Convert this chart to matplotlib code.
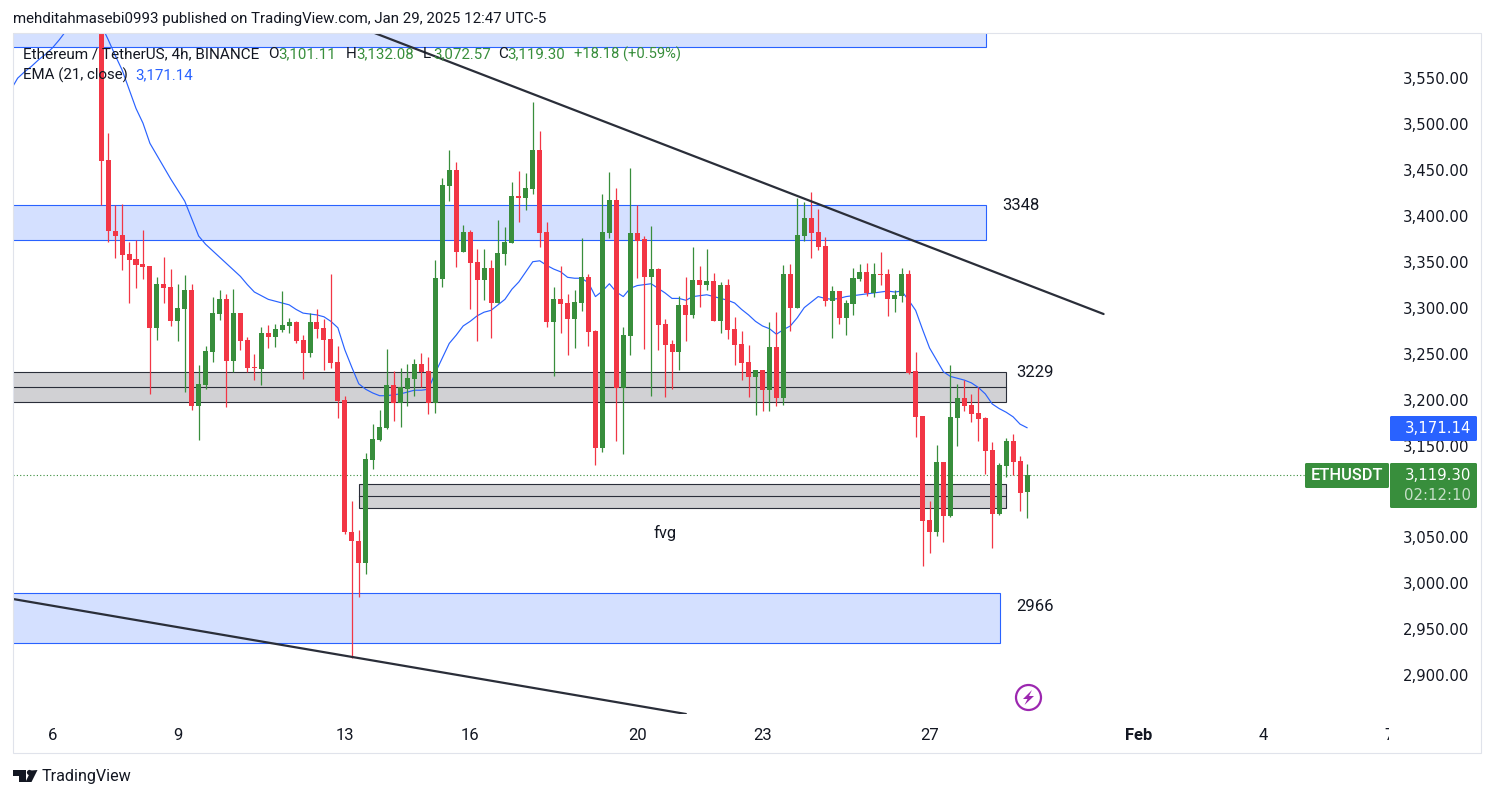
import numpy as np
import matplotlib
matplotlib.use("Agg")
import matplotlib.pyplot as plt
from matplotlib.patches import Rectangle, Polygon, Circle, FancyBboxPatch
from matplotlib.transforms import Bbox, ScaledTranslation

plt.rcParams["font.family"] = ["Roboto", "DejaVu Sans"]

# 4h candles, oldest first
opens = [3680, 3463, 3385, 3381, 3360, 3355, 3350, 3347, 3280, 3328, 3324, 3287, 3300, 3321, 3195, 3218, 3254, 3295, 3311, 3244,
         3296, 3267, 3237, 3235, 3274, 3270, 3278, 3282, 3286, 3267, 3253, 3286, 3280, 3268, 3243, 3201, 3057, 3048, 3024, 3136,
         3158, 3171, 3218, 3198, 3213, 3224, 3241, 3233, 3198, 3333, 3434, 3452, 3363, 3384, 3352, 3332, 3345, 3307, 3360, 3372,
         3424, 3421, 3431, 3474, 3384, 3286, 3311, 3307, 3290, 3307, 3335, 3276, 3149, 3383, 3419, 3214, 3271, 3383, 3377, 3335,
         3344, 3284, 3262, 3254, 3305, 3294, 3332, 3327, 3331, 3287, 3327, 3279, 3262, 3243, 3226, 3234, 3212, 3259, 3204, 3339,
         3302, 3380, 3400, 3384, 3369, 3309, 3320, 3291, 3306, 3333, 3341, 3318, 3339, 3339, 3311, 3315, 3339, 3233, 3184, 3071,
         3057, 3134, 3075, 3182, 3204, 3196, 3187, 3182, 3147, 3077, 3129, 3157, 3135, 3101.11]
highs = [3690, 3492, 3414, 3415, 3373, 3376, 3387, 3347, 3335, 3357, 3344, 3328, 3338, 3328, 3239, 3260, 3314, 3321, 3317, 3322,
         3296, 3270, 3251, 3281, 3283, 3284, 3320, 3291, 3287, 3272, 3296, 3300, 3290, 3339, 3260, 3206, 3091, 3060, 3144, 3175,
         3190, 3257, 3233, 3236, 3241, 3246, 3253, 3248, 3354, 3443, 3474, 3461, 3392, 3387, 3366, 3366, 3354, 3397, 3390, 3439,
         3451, 3449, 3526, 3494, 3395, 3324, 3347, 3317, 3321, 3378, 3339, 3278, 3426, 3450, 3432, 3281, 3454, 3414, 3380, 3391,
         3345, 3290, 3267, 3315, 3335, 3368, 3347, 3366, 3340, 3330, 3333, 3292, 3276, 3261, 3234, 3234, 3286, 3297, 3348, 3349,
         3421, 3417, 3428, 3409, 3379, 3325, 3320, 3310, 3345, 3349, 3351, 3351, 3363, 3344, 3321, 3345, 3343, 3254, 3184, 3091,
         3152, 3134, 3239, 3219, 3223, 3208, 3215, 3183, 3156, 3133, 3160, 3164, 3140, 3132.08]
lows = [3414, 3373, 3356, 3343, 3307, 3323, 3333, 3208, 3267, 3307, 3282, 3266, 3210, 3190, 3158, 3213, 3243, 3289, 3194, 3232,
        3256, 3232, 3223, 3218, 3258, 3259, 3275, 3274, 3263, 3224, 3248, 3269, 3234, 3236, 3182, 3055, 2920, 2987, 3012, 3126,
        3157, 3170, 3178, 3172, 3195, 3206, 3215, 3186, 3187, 3324, 3418, 3346, 3363, 3300, 3266, 3310, 3269, 3307, 3348, 3372,
        3395, 3408, 3426, 3368, 3281, 3227, 3274, 3250, 3258, 3298, 3260, 3130, 3145, 3378, 3157, 3142, 3250, 3334, 3257, 3206,
        3256, 3205, 3213, 3234, 3266, 3291, 3303, 3321, 3287, 3274, 3268, 3239, 3223, 3205, 3185, 3189, 3189, 3195, 3196, 3276,
        3302, 3375, 3356, 3365, 3304, 3269, 3284, 3272, 3294, 3331, 3315, 3314, 3327, 3293, 3297, 3308, 3230, 3161, 3020, 3035,
        3053, 3047, 3074, 3151, 3189, 3177, 3157, 3121, 3040, 3076, 3117, 3120, 3080, 3072.57]
closes = [3462, 3385, 3380, 3359, 3354, 3348, 3346, 3280, 3328, 3323, 3287, 3302, 3321, 3195, 3219, 3255, 3296, 3311, 3244, 3296,
          3266, 3236, 3236, 3274, 3270, 3279, 3283, 3286, 3266, 3253, 3286, 3279, 3267, 3242, 3200, 3057, 3048, 3024, 3137, 3159,
          3172, 3218, 3198, 3215, 3225, 3241, 3232, 3198, 3334, 3436, 3452, 3363, 3384, 3351, 3332, 3345, 3307, 3361, 3373, 3424,
          3421, 3432, 3474, 3383, 3286, 3311, 3306, 3290, 3308, 3335, 3275, 3149, 3384, 3419, 3214, 3272, 3383, 3375, 3335, 3344,
          3283, 3261, 3254, 3305, 3294, 3332, 3327, 3331, 3287, 3327, 3278, 3261, 3242, 3226, 3234, 3212, 3259, 3204, 3339, 3302,
          3381, 3400, 3383, 3368, 3309, 3320, 3291, 3307, 3334, 3341, 3318, 3339, 3337, 3311, 3316, 3339, 3231, 3183, 3069, 3057,
          3134, 3075, 3183, 3204, 3195, 3186, 3181, 3146, 3077, 3130, 3157, 3134, 3100, 3119.30]

# EMA(21), starts 13 bars before the first candle
ema_offset = -13
ema = [3539, 3552, 3559, 3565, 3572, 3578, 3585, 3594, 3604, 3626, 3632, 3634, 3626,
       3610, 3594, 3577, 3561, 3540, 3519, 3503, 3481, 3468, 3455, 3442, 3430, 3418, 3399, 3380, 3371, 3364, 3357, 3350, 3343,
       3336, 3327, 3319, 3315, 3311, 3309, 3307, 3305, 3300, 3296, 3295, 3294, 3292, 3287, 3280, 3256, 3237, 3219, 3213, 3209,
       3206, 3206, 3207, 3208, 3210, 3212, 3212, 3213, 3231, 3247, 3263, 3272, 3282, 3287, 3293, 3297, 3299, 3305, 3311, 3322,
       3330, 3341, 3352, 3353, 3348, 3344, 3341, 3335, 3334, 3334, 3329, 3314, 3320, 3328, 3319, 3314, 3323, 3326, 3327, 3328,
       3323, 3318, 3312, 3312, 3310, 3314, 3315, 3316, 3314, 3312, 3310, 3307, 3300, 3294, 3287, 3282, 3279, 3273, 3278, 3282,
       3291, 3302, 3308, 3314, 3312, 3311, 3312, 3314, 3315, 3316, 3317, 3318, 3319, 3320, 3319, 3320, 3310, 3299, 3278, 3258,
       3245, 3232, 3227, 3225, 3223, 3220, 3215, 3208, 3197, 3192, 3188, 3183, 3175, 3171.14]

# drawings on the chart: bar index ranges and price levels
blue_zones = [(-20, 127.05, 3586, 3660), (-20, 127.05, 3376, 3414), (-20, 129.05, 2937, 2991)]
gray_zones = [(-20, 130.05, 3198.8, 3215, 3231.5), (37.0, 130.05, 3083.3, 3096.4, 3109.4)]
trend_x = [[39.27, 144.0], [-12.67, 84.0]]
trend_y = [[3601.2, 3295], [2984.5, 2859.2]]
level_names = ["3348", "3229", "2966", "fvg"]
level_x = [129.4, 131.4, 131.4, 79.4]
level_y = [3413, 3231, 2976, 3056]

# 3,100.00 is hidden by the last price badge
price_ticks = [2900, 2950, 3000, 3050, 3150, 3200, 3250, 3300, 3350, 3400, 3450, 3500, 3550]
day_ticks = [-7, 11, 35, 53, 77, 95, 119, 149, 167, 185]
day_labels = ["6", "9", "13", "16", "20", "23", "27", "Feb", "4", "7"]

RED = "#f23645"
GREEN = "#388e3c"
BLUE = "#2962ff"
DARK = "#2a2e39"
TEXT = "#131722"
SCALE_FONT = "DejaVu Sans"
W, H = 1494, 798

fig = plt.figure(figsize=(W / 100, H / 100), dpi=100, facecolor="white")
ax = fig.add_axes([13 / W, 1 - 714 / H, (1389 - 13) / W, (714 - 33) / H])
ax.set_xlim(-12.67, 184.75)
ax.set_ylim(2859.2, 3601.2)
for s in ax.spines.values():
    s.set_visible(False)

for x0, x1, lo, hi in blue_zones:
    ax.add_patch(Rectangle((x0, lo), x1 - x0, hi - lo, fc="#d4e0ff", ec=BLUE, lw=0.8, zorder=1))
for x0, x1, lo, mid, hi in gray_zones:
    ax.add_patch(Rectangle((x0, lo), x1 - x0, hi - lo, fc="#d1d1d4", ec=DARK, lw=0.8, zorder=1))
    ax.plot([x0, x1], [mid, mid], color=DARK, lw=0.8, zorder=1)

idx = np.arange(len(closes))
opens = np.array(opens, dtype=float)
closes = np.array(closes, dtype=float)
colors = [GREEN if c >= o else RED for o, c in zip(opens, closes)]
ema_x = np.arange(len(ema)) + ema_offset
ax.plot(ema_x, ema, color=BLUE, lw=0.85, zorder=2)
ax.axhline(closes[-1], color=GREEN, lw=0.8, ls=(0, (1, 2)), zorder=2)
ax.vlines(idx, lows, highs, colors=colors, lw=0.9, zorder=3)
ax.bar(idx, np.abs(closes - opens), bottom=np.minimum(opens, closes), width=0.72, color=colors, lw=0, zorder=3)

for tx, ty in zip(trend_x, trend_y):
    ax.plot(tx, ty, color=DARK, lw=1.6, solid_capstyle="round", zorder=4)

for name, lx, ly in zip(level_names, level_x, level_y):
    ax.text(lx, ly, name, fontsize=12, color=TEXT, ha="left", va="center", zorder=5)

ax.yaxis.tick_right()
ax.set_yticks(price_ticks)
ax.set_yticklabels([f"{p:,.2f}" for p in price_ticks], fontsize=10.7, color=TEXT, family=SCALE_FONT)
ax.set_xticks(day_ticks)
ax.set_xticklabels(day_labels, fontsize=12, color=TEXT)
ax.tick_params(axis="y", length=0, pad=10)
ax.tick_params(axis="x", length=0, pad=10)
ax.get_xticklabels()[7].set_fontweight("bold")
# the last date label is cut by the price scale
ax.get_xticklabels()[-1].set_clip_box(Bbox([[0, 0], [1389, H]]))
ax.get_xticklabels()[-1].set_clip_on(True)
# price labels sit a little above their level
lift = ScaledTranslation(0, 1.5 / 100, fig.dpi_scale_trans)
for lab in ax.get_yticklabels():
    lab.set_transform(lab.get_transform() + lift)

# page furniture drawn in pixel coordinates
ov = fig.add_axes([0, 0, 1, 1], facecolor="none")
ov.set_xlim(0, W)
ov.set_ylim(H, 0)
ov.axis("off")
ov.add_patch(Rectangle((13, 33), 1468, 720, fc="none", ec="#e0e3eb", lw=0.8))

ov.text(13, 19.5, "mehditahmasebi0993 published on TradingView.com, Jan 29, 2025 12:47 UTC-5", fontsize=10.8, color=TEXT, va="center")

ohlc_y = 54
ov.text(23, ohlc_y, "Ethereum / TetherUS, 4h, BINANCE", fontsize=11, color=TEXT, va="center")
for lx, lab, vx, val in [(268, "O", 278, opens[-1]), (346, "H", 356, highs[-1]), (423, "L", 433, lows[-1]), (498, "C", 507, closes[-1])]:
    ov.text(lx, ohlc_y, lab, fontsize=11, color=TEXT, va="center")
    ov.text(vx, ohlc_y, f"{val:,.2f}", fontsize=10.8, color=GREEN, va="center")
ov.text(574.5, ohlc_y, "+18.18 (+0.59%)", fontsize=10.6, color=GREEN, va="center")
ov.text(23, 75.5, "EMA (21, close)", fontsize=10.8, color=TEXT, va="center")
ov.text(135, 75.5, f"{ema[-1]:,.2f}", fontsize=10.8, color=BLUE, va="center")

# price scale badges
ov.add_patch(FancyBboxPatch((1390, 416), 87, 25, boxstyle="round,pad=0,rounding_size=1.5", fc=BLUE, lw=0))
ov.text(1471, 428.5, f"{ema[-1]:,.2f}", fontsize=10.7, color="white", ha="right", va="center", family=SCALE_FONT)
ov.add_patch(FancyBboxPatch((1305, 463), 84, 25, boxstyle="round,pad=0,rounding_size=1.5", fc=GREEN, lw=0))
ov.text(1347, 475.5, "ETHUSDT", fontsize=11.8, color="white", ha="center", va="center", fontweight="medium")
ov.add_patch(FancyBboxPatch((1390, 463), 87, 45, boxstyle="round,pad=0,rounding_size=1.5", fc=GREEN, lw=0))
ov.text(1471, 475, f"{closes[-1]:,.2f}", fontsize=10.7, color="white", ha="right", va="center", family=SCALE_FONT)
ov.text(1471, 495, "02:12:10", fontsize=10.7, color="#c7dfc9", ha="right", va="center", family=SCALE_FONT)

# purple flash icon
ov.add_patch(Circle((1028.5, 697.5), 12.5, fc="none", ec="#9c27b0", lw=1.6))
ov.add_patch(Polygon([(1032, 690), (1023, 699), (1027.5, 699), (1024.5, 705), (1034, 696), (1029, 696)], fc="#9c27b0", lw=0))

# TradingView logo
ov.add_patch(Polygon([(13, 770), (26, 770), (26, 782), (19, 782), (19, 775.5), (13, 775.5)], fc=TEXT, lw=0))
ov.add_patch(Circle((29.5, 772.5), 2.6, fc=TEXT, lw=0))
ov.add_patch(Polygon([(37.5, 770), (31.5, 782), (25.5, 782), (31, 770.5)], fc=TEXT, lw=0))
ov.text(42, 776.5, "TradingView", fontsize=11.6, color=TEXT, va="center")

fig.savefig("out.png", dpi=100)
